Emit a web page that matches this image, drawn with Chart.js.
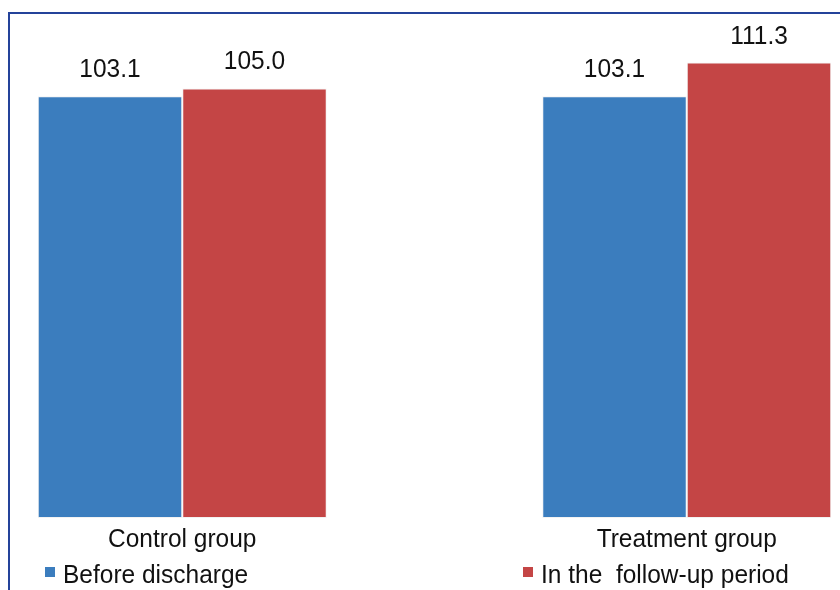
<!DOCTYPE html>
<html>
<head>
<meta charset="utf-8">
<script src="https://cdn.jsdelivr.net/npm/chart.js@4/dist/chart.umd.min.js"></script>
<style>
  html, body { margin: 0; padding: 0; background: #fff; }
  body { width: 840px; height: 590px; overflow: hidden; position: relative; }
  #frame { position: absolute; left: 8px; top: 12px; width: 840px; height: 600px;
           border-left: 2px solid #24439a; border-top: 2px solid #24439a; }
  #chart { position: absolute; left: -70px; top: 0; }
</style>
</head>
<body>
<div id="frame"></div>
<canvas id="chart" width="1009" height="590"></canvas>
<script>
const groups = ['Control group', 'Treatment group'];
const seriesNames = ['Before discharge', 'In the  follow-up period'];
const beforeDischarge = [103.1, 103.1];
const followUp = [105.0, 111.3];

const BLUE = '#3b7dbe';
const RED = '#c44545';
const SHIFT = 70; // canvas sits 70px left of the page edge
const FONT = '24.5px "Liberation Sans", Arial, sans-serif';
const TALL = 1.08; // text is drawn slightly taller than wide

Chart.defaults.font.family = '"Liberation Sans", Arial, sans-serif';
Chart.defaults.color = '#111';

function tallText(ctx, text, x, y) {
  ctx.save();
  ctx.translate(x, y);
  ctx.scale(1, TALL);
  ctx.fillText(text, 0, 0);
  ctx.restore();
}

// numbers above every bar and the group names under them
const barText = {
  id: 'barText',
  afterDatasetsDraw(chart) {
    const ctx = chart.ctx;
    ctx.save();
    ctx.font = FONT;
    ctx.fillStyle = '#111';
    ctx.textAlign = 'center';
    ctx.textBaseline = 'alphabetic';
    chart.data.datasets.forEach((ds, i) => {
      chart.getDatasetMeta(i).data.forEach((bar, j) => {
        tallText(ctx, ds.data[j].toFixed(1), bar.x, bar.y - 19);
      });
    });
    const xs = chart.scales.x;
    chart.data.labels.forEach((lab, k) => {
      tallText(ctx, lab, xs.getPixelForTick(k), 547);
    });
    ctx.restore();
  }
};

// legend along the bottom edge
const bottomLegend = {
  id: 'bottomLegend',
  afterDraw(chart) {
    const ctx = chart.ctx;
    const spots = [45, 523];
    ctx.save();
    ctx.font = FONT;
    ctx.textBaseline = 'alphabetic';
    ctx.textAlign = 'left';
    chart.data.datasets.forEach((ds, i) => {
      const x = spots[i] + SHIFT;
      ctx.fillStyle = ds.backgroundColor;
      ctx.fillRect(x, 567, 10, 10);
      ctx.fillStyle = '#111';
      tallText(ctx, ds.label, x + 18, 583);
    });
    ctx.restore();
  }
};

new Chart(document.getElementById('chart'), {
  type: 'bar',
  data: {
    labels: groups,
    datasets: [
      { label: seriesNames[0], data: beforeDischarge, backgroundColor: BLUE },
      { label: seriesNames[1], data: followUp, backgroundColor: RED }
    ]
  },
  options: {
    responsive: false,
    animation: false,
    layout: { padding: { top: 27, left: 0, right: 0, bottom: 0 } },
    datasets: {
      bar: {
        categoryPercentage: 289 / 504.5,
        barPercentage: 1,
        borderWidth: 1,
        borderColor: '#f2f2f2',
        borderSkipped: false
      }
    },
    plugins: { legend: { display: false }, tooltip: { enabled: false } },
    scales: {
      x: {
        grid: { display: false, drawTicks: false },
        border: { display: false },
        ticks: { display: false },
        afterFit(scale) { scale.height = 72; }
      },
      y: { display: false, min: 0, max: 120 }
    }
  },
  plugins: [barText, bottomLegend]
});
</script>
</body>
</html>
